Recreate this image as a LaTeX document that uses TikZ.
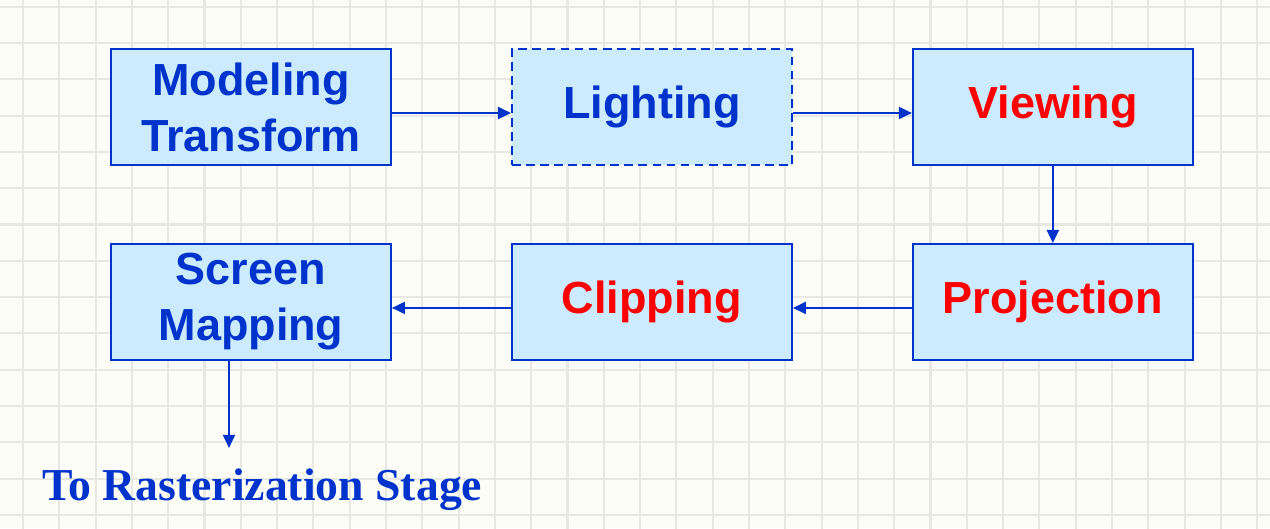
\documentclass[tikz,border=0pt]{standalone}
\usepackage{fontspec}
\setmainfont{Liberation Sans}
\newfontfamily\stagefont{Liberation Serif}
\usepackage{xcolor}
\usepackage{tikz}
\usetikzlibrary{arrows.meta,positioning}
\definecolor{plBlue}{RGB}{0,51,204}
\definecolor{plFill}{RGB}{204,235,255}
\definecolor{plRed}{RGB}{255,0,0}
\definecolor{plPaper}{RGB}{253,253,247}
\definecolor{plGrid}{RGB}{232,232,226}

\begin{document}
\begin{tikzpicture}[
  node distance=1.54cm and 2.38cm,
  stagebox/.style={draw=plBlue, line width=1.1pt, fill=plFill, inner sep=0pt, align=center,
    minimum width=5.6cm, minimum height=2.32cm, text=plBlue,
    font=\fontsize{25.6}{31.9}\selectfont\bfseries},
  hot/.style={text=plRed},
  arr/.style={-{Triangle[length=2.6mm,width=2.4mm]}, line width=1.1pt, draw=plBlue}
]
% paper with faint grid
\fill[plPaper] (0,0) rectangle (25.4,-10.56);
\begin{scope}
\clip (0,0) rectangle (25.4,-10.56);
\draw[plGrid, line width=1.2pt, shift={(0.46,-0.86)}, step=0.726] (-1.46,-10.4) grid (25.4,0.86);
\end{scope}
\useasboundingbox (0,0) rectangle (25.4,-10.56);

\node[stagebox] (model) at (5.02,-2.14) {Modeling\\Transform};
\node[stagebox, dashed, dash pattern=on 5pt off 3pt, right=of model] (light) {Lighting};
\node[stagebox, hot, right=of light] (view) {Viewing};
\node[stagebox, hot, below=of view] (proj) {Projection};
\node[stagebox, hot, left=of proj] (clip) {Clipping};
\node[stagebox, left=of clip] (screen) {Screen\\Mapping};
\node[anchor=base west, text=plBlue, font=\stagefont\bfseries\fontsize{26}{31}\selectfont] (raster) at (0.72,-10.0) {To Rasterization Stage};

\draw[arr] ([yshift=-0.12cm]model.east) -- ([yshift=-0.12cm]light.west);
\draw[arr] ([yshift=-0.12cm]light.east) -- ([yshift=-0.12cm]view.west);
\draw[arr] (view) -- (proj);
\draw[arr] ([yshift=-0.12cm]proj.west) -- ([yshift=-0.12cm]clip.east);
\draw[arr] ([yshift=-0.12cm]clip.west) -- ([yshift=-0.12cm]screen.east);
\draw[arr] ([xshift=-0.44cm]screen.south) -- ++(0,-1.74) coordinate (rastEnd);
\end{tikzpicture}
\end{document}
